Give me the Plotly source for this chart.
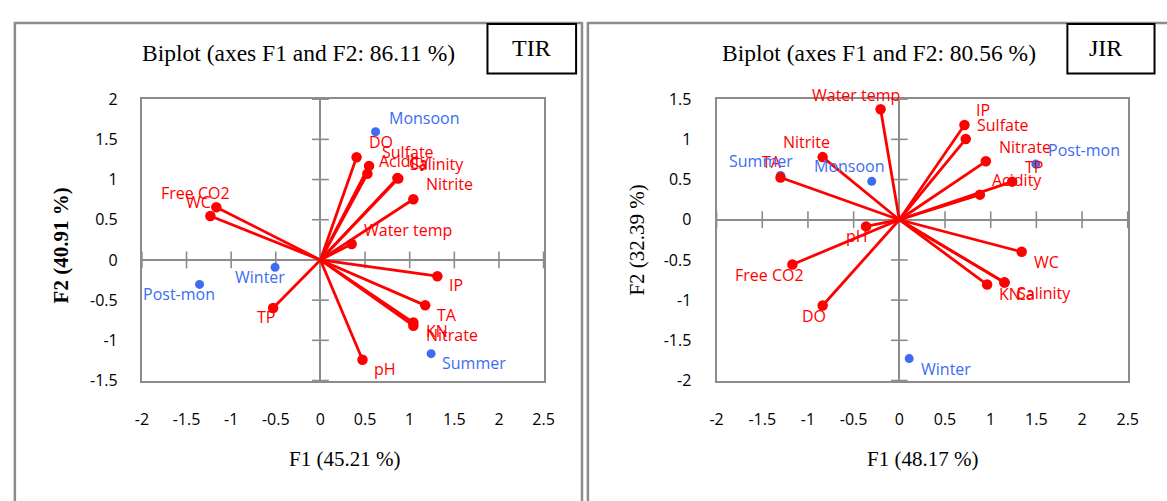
import plotly.graph_objects as go

W, H = 1167, 501

# ---------------- data ----------------
tir_vars = ["DO", "Sulfate", "Acidity", "Ca", "Salinity", "Nitrite", "Free CO2", "WC",
            "Water temp", "IP", "TA", "KN", "Nitrate", "pH", "TP"]
tir_f1 = [0.405, 0.545, 0.526, 0.862, 0.872, 1.041, -1.166, -1.233,
          0.350, 1.310, 1.174, 1.041, 1.041, 0.471, -0.530]
tir_f2 = [1.277, 1.170, 1.072, 1.018, 1.012, 0.755, 0.656, 0.546,
          0.198, -0.202, -0.565, -0.779, -0.818, -1.242, -0.597]
tir_obs = ["Monsoon", "Winter", "Post-mon", "Summer"]
tir_obs_f1 = [0.618, -0.508, -1.354, 1.240]
tir_obs_f2 = [1.594, -0.091, -0.304, -1.166]

jir_vars = ["Water temp", "IP", "Sulfate", "Nitrate", "TP", "Acidity", "Nitrite", "TA",
            "pH", "Free CO2", "DO", "WC", "KN", "Ca", "Salinity"]
jir_f1 = [-0.205, 0.713, 0.727, 0.947, 1.235, 0.882, -0.839, -1.300,
          -0.364, -1.170, -0.839, 1.339, 0.961, 1.150, 1.152]
jir_f2 = [1.375, 1.178, 1.004, 0.727, 0.474, 0.312, 0.779, 0.526,
          -0.083, -0.557, -1.067, -0.399, -0.806, -0.782, -0.779]
jir_obs = ["Post-mon", "Summer", "Monsoon", "Winter"]
jir_obs_f1 = [1.494, -1.300, -0.302, 0.108]
jir_obs_f2 = [0.692, 0.550, 0.478, -1.727]

x_ticks = [-2, -1.5, -1, -0.5, 0, 0.5, 1, 1.5, 2, 2.5]
tir_y_ticks = [-1.5, -1, -0.5, 0, 0.5, 1, 1.5, 2]
jir_y_ticks = [-2, -1.5, -1, -0.5, 0, 0.5, 1, 1.5]

tir_title = "Biplot (axes F1 and F2: 86.11 %)"
jir_title = "Biplot (axes F1 and F2: 80.56 %)"
tir_xlab, tir_ylab = "F1 (45.21 %)", "<b>F2 (40.91 %)</b>"
jir_xlab, jir_ylab = "F1 (48.17 %)", "F2 (32.39 %)"

# ---------------- label placement (style) ----------------
# (xanchor, xshift px, yshift px)
tir_var_lab = [("left", 10, 15), ("left", 11, 14), ("left", 10, 13), ("left", 10, 15),
               ("left", 10, 15), ("left", 11, 15), ("right", 16, 14), ("right", 3, 14),
               ("left", 10, 14), ("left", 10, -9), ("left", 10, -10), ("left", 11, -8),
               ("left", 11, -9.5), ("left", 10, -9), ("right", 4, -9)]
tir_obs_lab = [("left", 11, 14), ("right", 12, -10), ("right", 17, -10), ("left", 9, -9)]
jir_var_lab = [("center", -25, 14), ("left", 10, 15), ("left", 9, 14.5), ("left", 11, 14.7),
               ("left", 11, 14.3), ("left", 10, 14.7), ("right", 9, 14.7), ("right", 3, 15),
               ("right", 4, -10), ("right", 14, -10), ("right", 5, -10), ("left", 10, -10),
               ("left", 10, -9), ("left", 10, -11), ("left", 10, -11)]
jir_obs_lab = [("left", 10, 14), ("right", 14, 15), ("right", 15, 15), ("left", 10, -10)]

RED = "#FF0000"
BLUE = "#3D6CF2"
GRAY = "#8C8C8C"
LAB_FONT = "Open Sans"
SERIF = "Liberation Serif"


def px(x):
    return x / W


def py(y):
    return 1 - y / H


fig = go.Figure()
annotations = []


def add_panel(xa, ya, vars_, f1, f2, obs, of1, of2, var_lab, obs_lab, yt):
    xref = "x" if xa == "xaxis" else "x2"
    yref = "y" if ya == "yaxis" else "y2"
    # tick marks on the zero axes
    fig.add_trace(go.Scatter(x=x_ticks, y=[0] * len(x_ticks), mode="markers",
                             marker=dict(symbol="line-ns", size=12,
                                         line=dict(width=1.6, color=GRAY)),
                             xaxis=xref, yaxis=yref, hoverinfo="skip", showlegend=False,
                             cliponaxis=False))
    fig.add_trace(go.Scatter(x=[0] * len(yt), y=yt, mode="markers",
                             marker=dict(symbol="line-ew", size=12,
                                         line=dict(width=1.6, color=GRAY)),
                             xaxis=xref, yaxis=yref, hoverinfo="skip", showlegend=False,
                             cliponaxis=False))
    # observations
    fig.add_trace(go.Scatter(x=of1, y=of2, mode="markers",
                             marker=dict(color=BLUE, size=9),
                             xaxis=xref, yaxis=yref, showlegend=False, cliponaxis=False))
    # variable vectors
    lx, ly = [], []
    for a, b in zip(f1, f2):
        lx += [0, a, None]
        ly += [0, b, None]
    fig.add_trace(go.Scatter(x=lx, y=ly, mode="lines",
                             line=dict(color=RED, width=2.8),
                             xaxis=xref, yaxis=yref, showlegend=False, hoverinfo="skip",
                             cliponaxis=False))
    fig.add_trace(go.Scatter(x=f1, y=f2, mode="markers",
                             marker=dict(color=RED, size=10.5),
                             xaxis=xref, yaxis=yref, showlegend=False, cliponaxis=False))
    for name, a, b, (anc, dx, dy) in zip(vars_, f1, f2, var_lab):
        annotations.append(dict(x=a, y=b, xref=xref, yref=yref, text=name, showarrow=False,
                                xanchor=anc, yanchor="middle", xshift=dx, yshift=dy,
                                font=dict(family=LAB_FONT, size=16, color=RED)))
    for name, a, b, (anc, dx, dy) in zip(obs, of1, of2, obs_lab):
        annotations.append(dict(x=a, y=b, xref=xref, yref=yref, text=name, showarrow=False,
                                xanchor=anc, yanchor="middle", xshift=dx, yshift=dy,
                                font=dict(family=LAB_FONT, size=16, color=BLUE)))


add_panel("xaxis", "yaxis", tir_vars, tir_f1, tir_f2, tir_obs, tir_obs_f1, tir_obs_f2,
          tir_var_lab, tir_obs_lab, tir_y_ticks)
add_panel("xaxis2", "yaxis2", jir_vars, jir_f1, jir_f2, jir_obs, jir_obs_f1, jir_obs_f2,
          jir_var_lab, jir_obs_lab, jir_y_ticks)

axis_common = dict(showgrid=False, zeroline=True, zerolinecolor=GRAY, zerolinewidth=2,
                   showline=True, mirror=True, linecolor=GRAY, linewidth=2,
                   ticks="", tickfont=dict(family=LAB_FONT, size=16, color="#000000"),
                   fixedrange=True)

y_dom = [py(386.5), py(92.2)]
fig.update_layout(
    width=W, height=H, margin=dict(l=0, r=0, t=0, b=0),
    paper_bgcolor="white", plot_bgcolor="white", showlegend=False,
    xaxis=dict(domain=[px(137), px(545)], range=[-2, 2.5], tickvals=x_ticks,
               ticktext=[f"{v:g}" for v in x_ticks], ticklabelstandoff=23,
               anchor="y", **axis_common),
    yaxis=dict(domain=y_dom, range=[-1.5, 2], tickvals=tir_y_ticks,
               ticktext=[f"{v:g}" for v in tir_y_ticks], ticklabelstandoff=19,
               anchor="x", **axis_common),
    xaxis2=dict(domain=[px(720.7), px(1138.3)], range=[-2, 2.5], tickvals=x_ticks,
                ticktext=[f"{v:g}" for v in x_ticks], ticklabelstandoff=23,
                anchor="y2", **axis_common),
    yaxis2=dict(domain=y_dom, range=[-2, 1.5], tickvals=jir_y_ticks,
                ticktext=[f"{v:g}" for v in jir_y_ticks], ticklabelstandoff=20,
                anchor="x2", **axis_common),
)

# panel frames and tag boxes
shapes = [
    dict(type="rect", xref="paper", yref="paper", x0=px(8), x1=px(584), y0=-0.1, y1=py(12.5),
         line=dict(color=GRAY, width=2.5), layer="below"),
    dict(type="rect", xref="paper", yref="paper", x0=px(590), x1=1.1, y0=-0.1, y1=py(12.5),
         line=dict(color=GRAY, width=2.5), layer="below"),
    dict(type="rect", xref="paper", yref="paper", x0=px(488), x1=px(578), y0=py(65.5), y1=py(13.5),
         line=dict(color="#000000", width=2), fillcolor="white"),
    dict(type="rect", xref="paper", yref="paper", x0=px(1077), x1=px(1165.5), y0=py(65.5), y1=py(13.5),
         line=dict(color="#000000", width=2), fillcolor="white"),
]

serif_txt = [
    (tir_title, 296, 44, 23.5, 0),
    (jir_title, 885.5, 44, 23.5, 0),
    ("TIR", 533, 39, 24, 0),
    ("JIR", 1116, 39, 24, 0),
    (tir_xlab, 343, 469, 21, 0),
    (jir_xlab, 929.5, 469, 21, 0),
    (tir_ylab, 55, 245, 21, -90),
    (jir_ylab, 640, 240, 21, -90),
]
for t, x, y, s, ang in serif_txt:
    annotations.append(dict(x=px(x), y=py(y), xref="paper", yref="paper", text=t,
                            showarrow=False, xanchor="center", yanchor="middle",
                            textangle=ang,
                            font=dict(family=SERIF, size=s, color="#000000")))

fig.update_layout(shapes=shapes, annotations=annotations)
fig.write_html("out.html")
